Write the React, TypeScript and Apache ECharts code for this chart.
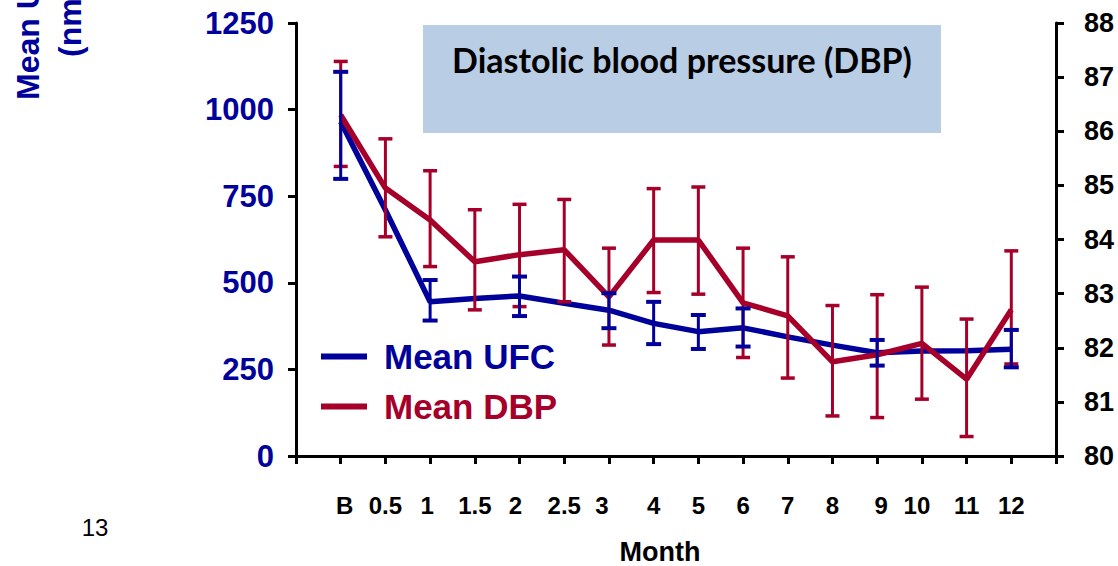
import React, { useEffect, useRef } from "react";
import * as echarts from "echarts";

// Visit labels along the month axis
const months = ["B", "0.5", "1", "1.5", "2", "2.5", "3", "4", "5", "6", "7", "8", "9", "10", "11", "12"];

// Mean urinary free cortisol (nmol/24h) with error bar limits (null = no bar drawn)
const ufcMean = [965, 710, 445, 455, 462, 441, 421, 383, 359, 370, 344, 320, 298, 303, 304, 308];
const ufcLow = [800, null, 391, null, 404, null, 369, 323, 309, 316, null, null, 261, null, null, 256];
const ufcHigh = [1109, null, 508, null, 518, null, 470, 445, 407, 426, null, null, 335, null, null, 364];

// Mean diastolic blood pressure (mmHg) with error bar limits
const dbpMean = [86.3, 84.95, 84.36, 83.59, 83.72, 83.81, 82.94, 83.99, 83.99, 82.83, 82.59, 81.74, 81.87, 82.08, 81.42, 82.7];
const dbpLow = [85.35, 84.05, 83.5, 82.7, 82.76, 82.85, 82.05, 83.02, 82.99, 81.82, 81.44, 80.74, 80.71, 81.05, 80.36, 81.7];
const dbpHigh = [87.29, 85.86, 85.27, 84.55, 84.65, 84.74, 83.84, 84.94, 84.97, 83.84, 83.68, 82.78, 82.98, 83.12, 82.53, 83.79];

const BLUE = "#00009A";
const RED = "#A6002A";
const ARIAL = "Arial, Liberation Sans, sans-serif";

// small horizontal nudges of the month labels (px, positive = right)
const labelNudge: Record<string, number> = { B: 4, "1": -3, "2": -4, "3": -7, "9": 4, "10": -5 };

const pos = (i: number) => i + 1;

function errorBars(low: (number | null)[], high: (number | null)[], color: string, capW: number, capLW: number, yAxisIndex: number, z: number) {
  const data: number[][] = [];
  low.forEach((lo, i) => {
    const hi = high[i];
    if (lo != null && hi != null) data.push([pos(i), lo, hi]);
  });
  return {
    type: "custom",
    xAxisIndex: 0,
    yAxisIndex,
    z,
    silent: true,
    encode: { x: 0, y: [1, 2] },
    data,
    renderItem: (_params: any, api: any) => {
      const x = api.value(0);
      const pLo = api.coord([x, api.value(1)]);
      const pHi = api.coord([x, api.value(2)]);
      const hw = capW / 2;
      return {
        type: "group",
        children: [
          { type: "line", shape: { x1: pLo[0], y1: pLo[1], x2: pHi[0], y2: pHi[1] }, style: { stroke: color, lineWidth: 3 } },
          { type: "line", shape: { x1: pLo[0] - hw, y1: pLo[1], x2: pLo[0] + hw, y2: pLo[1] }, style: { stroke: color, lineWidth: capLW } },
          { type: "line", shape: { x1: pHi[0] - hw, y1: pHi[1], x2: pHi[0] + hw, y2: pHi[1] }, style: { stroke: color, lineWidth: capLW } },
        ],
      };
    },
  };
}

export default function App() {
  const ref = useRef<HTMLDivElement>(null);

  useEffect(() => {
    if (!ref.current) return;
    const chart = echarts.init(ref.current, null, { renderer: "svg" });
    const axisLine = { show: true, lineStyle: { color: "#000", width: 3 } };
    const axisTick = { show: true, inside: false, length: 8, lineStyle: { color: "#000", width: 3 } };

    const rich: Record<string, any> = {};
    Object.keys(labelNudge).forEach((k, idx) => {
      const n = labelNudge[k];
      rich["n" + idx] = {
        fontFamily: ARIAL,
        fontWeight: "bold",
        fontSize: 24,
        color: "#000",
        padding: n > 0 ? [0, 0, 0, 2 * n] : [0, -2 * n, 0, 0],
      };
    });

    chart.setOption({
      animation: false,
      backgroundColor: "#fff",
      grid: { left: 296, right: 62, top: 23, bottom: 110, containLabel: false },
      xAxis: {
        type: "value",
        min: 0,
        max: 17,
        interval: 1,
        axisLine,
        axisTick,
        splitLine: { show: false },
        axisLabel: {
          margin: 37,
          fontFamily: ARIAL,
          fontWeight: "bold",
          fontSize: 24,
          color: "#000",
          rich,
          formatter: (v: number) => {
            const m = months[v - 1];
            if (m == null) return "";
            const idx = Object.keys(labelNudge).indexOf(m);
            return idx >= 0 ? `{n${idx}|${m}}` : m;
          },
        },
      },
      yAxis: [
        {
          type: "value",
          min: 0,
          max: 1250,
          interval: 250,
          position: "left",
          axisLine,
          axisTick,
          splitLine: { show: false },
          axisLabel: {
            margin: 22,
            fontFamily: ARIAL,
            fontWeight: "bold",
            fontSize: 31,
            color: BLUE,
            formatter: (v: number) => String(v),
          },
        },
        {
          type: "value",
          min: 80,
          max: 88,
          interval: 1,
          position: "right",
          axisLine,
          axisTick,
          splitLine: { show: false },
          axisLabel: {
            margin: 28,
            fontFamily: ARIAL,
            fontWeight: "bold",
            fontSize: 27,
            color: "#000",
          },
        },
      ],
      legend: {
        orient: "vertical",
        left: 316,
        top: 334,
        itemWidth: 46,
        itemHeight: 6,
        itemGap: 15,
        icon: "rect",
        textStyle: { fontFamily: ARIAL, fontWeight: "bold", fontSize: 35, padding: [0, 0, 0, 12] },
        data: [
          { name: "Mean UFC", textStyle: { color: BLUE } },
          { name: "Mean DBP", textStyle: { color: RED } },
        ],
      },
      graphic: [
        {
          type: "rect",
          shape: { x: 423, y: 25, width: 518, height: 108 },
          style: { fill: "#B9CDE5" },
          z: 0,
        },
        {
          type: "text",
          x: 682,
          y: 59,
          style: {
            text: "Diastolic blood pressure (DBP)",
            align: "center",
            verticalAlign: "middle",
            fontFamily: "Lato, Open Sans, sans-serif",
            fontWeight: "bold",
            fontSize: 34,
            fill: "#000",
          },
          z: 1,
        },
        {
          type: "text",
          x: 28,
          y: 100,
          rotation: Math.PI / 2,
          style: {
            text: "Mean UFC",
            align: "left",
            verticalAlign: "middle",
            fontFamily: ARIAL,
            fontWeight: "bold",
            fontSize: 32,
            fill: BLUE,
          },
        },
        {
          type: "text",
          x: 70,
          y: 57,
          rotation: Math.PI / 2,
          style: {
            text: "(nmol/24h)",
            align: "left",
            verticalAlign: "middle",
            fontFamily: ARIAL,
            fontWeight: "bold",
            fontSize: 32,
            fill: BLUE,
          },
        },
        {
          type: "text",
          x: 95,
          y: 527,
          style: {
            text: "13",
            align: "center",
            verticalAlign: "middle",
            fontFamily: ARIAL,
            fontSize: 24,
            fill: "#000",
          },
        },
        {
          type: "text",
          x: 660,
          y: 552,
          style: {
            text: "Month",
            align: "center",
            verticalAlign: "middle",
            fontFamily: ARIAL,
            fontWeight: "bold",
            fontSize: 27,
            fill: "#000",
          },
        },
      ],
      series: [
        {
          name: "Mean UFC",
          type: "line",
          yAxisIndex: 0,
          z: 2,
          symbol: "none",
          itemStyle: { color: BLUE },
          lineStyle: { color: BLUE, width: 5.5 },
          data: ufcMean.map((v, i) => [pos(i), v]),
        },
        errorBars(dbpLow, dbpHigh, RED, 14, 3.5, 1, 3),
        {
          name: "Mean DBP",
          type: "line",
          yAxisIndex: 1,
          z: 4,
          symbol: "none",
          itemStyle: { color: RED },
          lineStyle: { color: RED, width: 5.5 },
          data: dbpMean.map((v, i) => [pos(i), v]),
        },
        errorBars(ufcLow, ufcHigh, BLUE, 15, 4, 0, 5),
      ],
    });
    return () => chart.dispose();
  }, []);

  return <div ref={ref} style={{ position: "fixed", left: 0, top: 0, width: 1118, height: 566 }} />;
}
